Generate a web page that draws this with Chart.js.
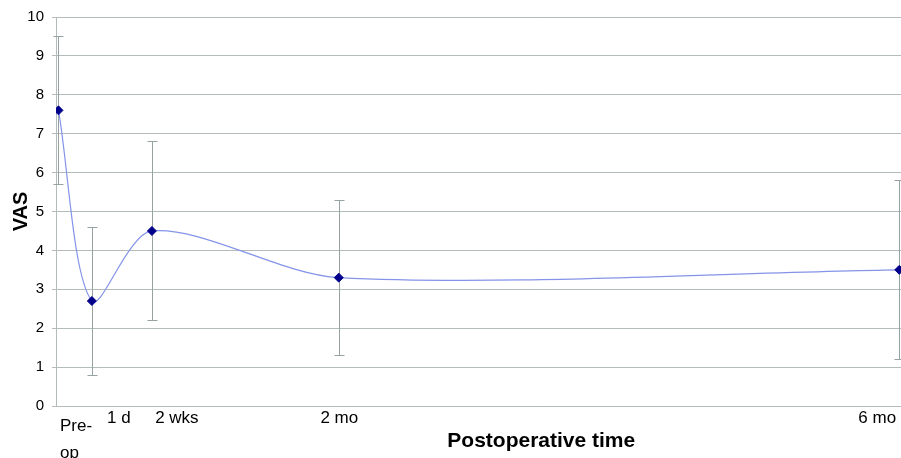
<!DOCTYPE html>
<html>
<head>
<meta charset="utf-8">
<script src="https://cdn.jsdelivr.net/npm/chart.js@4.4.1/dist/chart.umd.min.js"></script>
<style>
  html, body { margin: 0; padding: 0; overflow: hidden; background: #fff; }
</style>
</head>
<body>
<!-- the plot runs on past the right edge of the window, as in the cropped original -->
<canvas id="vasChart" width="1032" height="458"></canvas>
<script>
// VAS score after surgery, x in days (pre-op drawn one week before)
const timeDays = [-7, 0.5, 14, 56, 182];
const vasMean = [7.6, 2.7, 4.5, 3.3, 3.5];
const vasSD = [1.9, 1.9, 2.3, 2.0, 2.3];
const tickLabels = [['Pre-', 'op'], '1 d', '2 wks', '2 mo', '6 mo'];
const tickDays = [-6.66, 3.92, 14.73, 51.87, 172.8];

const FONT = "'Liberation Sans', Arial, sans-serif";
const GRID = '#b3bbbb';

// standard deviation bars, drawn under the line
const errorBars = {
    id: 'errorBars',
    beforeDatasetsDraw(chart) {
        const { ctx, scales: { x, y } } = chart;
        ctx.save();
        ctx.strokeStyle = '#97a2a2';
        ctx.lineWidth = 1;
        timeDays.forEach((d, i) => {
            const px = Math.round(x.getPixelForValue(d)) + 0.5;
            const top = Math.round(y.getPixelForValue(vasMean[i] + vasSD[i])) + 0.5;
            const bottom = Math.round(y.getPixelForValue(vasMean[i] - vasSD[i])) + 0.5;
            ctx.beginPath();
            ctx.moveTo(px, top);
            ctx.lineTo(px, bottom);
            ctx.moveTo(px - 5, top);
            ctx.lineTo(px + 5, top);
            ctx.moveTo(px - 5, bottom);
            ctx.lineTo(px + 5, bottom);
            ctx.stroke();
        });
        ctx.restore();
    }
};

new Chart(document.getElementById('vasChart'), {
    type: 'line',
    data: {
        datasets: [{
            label: 'VAS',
            data: timeDays.map((d, i) => ({ x: d, y: vasMean[i] })),
            borderColor: '#8494e8',
            borderWidth: 1.2,
            tension: 0.3,
            pointStyle: 'rectRot',
            pointRadius: 4.5,
            pointBackgroundColor: '#00008b',
            pointBorderColor: '#00008b',
            pointBorderWidth: 1
        }]
    },
    plugins: [errorBars],
    options: {
        responsive: false,
        animation: false,
        layout: { padding: { top: 16, right: 0, bottom: 0, left: 0 } },
        plugins: {
            legend: { display: false },
            tooltip: { enabled: false }
        },
        scales: {
            x: {
                type: 'linear',
                min: -7.56,
                max: 210.6,
                afterBuildTicks(scale) {
                    scale.ticks = tickDays.map(v => ({ value: v }));
                },
                afterFit(scale) {
                    scale.height = 52;
                },
                grid: { display: false, drawTicks: false },
                border: { display: false },
                ticks: {
                    align: 'start',
                    autoSkip: false,
                    maxRotation: 0,
                    padding: 6.5,
                    color: '#000',
                    callback: (value, index) => tickLabels[index],
                    font: ctx => ctx.index === 0
                        ? { family: FONT, size: 17, lineHeight: '27px' }
                        : { family: FONT, size: 17, lineHeight: '11px' }
                },
                title: {
                    display: true,
                    text: 'Postoperative time',
                    color: '#000',
                    font: { family: FONT, size: 21, weight: 'bold' },
                    padding: { top: 0, bottom: 4.4 }
                }
            },
            y: {
                min: 0,
                max: 10,
                afterFit(scale) {
                    scale.width = 56;
                },
                grid: { color: GRID, tickLength: 4 },
                border: { color: GRID },
                ticks: {
                    stepSize: 1,
                    padding: 8,
                    color: '#000',
                    font: { family: FONT, size: 15 }
                },
                title: {
                    display: true,
                    text: 'VAS',
                    color: '#000',
                    font: { family: FONT, size: 20, weight: 'bold' },
                    padding: { top: 9, bottom: 0 }
                }
            }
        }
    }
});
</script>
</body>
</html>
